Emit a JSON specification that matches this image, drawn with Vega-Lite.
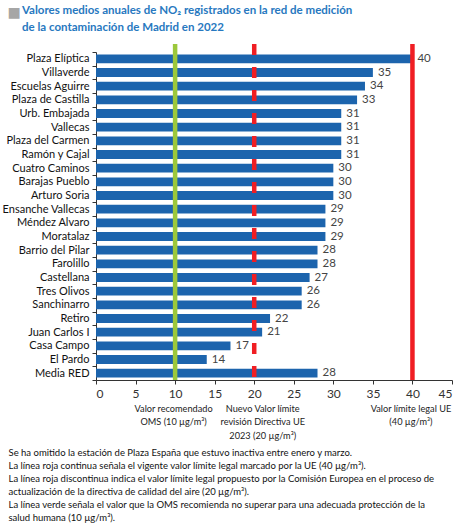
{
  "$schema": "https://vega.github.io/schema/vega-lite/v6.json",
  "autosize": {"type": "none"},
  "width": 356,
  "height": 336,
  "padding": {"left": 96, "top": 44, "right": 22, "bottom": 144},
  "background": "white",
  "config": {
    "font": "Lato",
    "view": {"stroke": null}
  },
  "title": {
    "text": ["Valores medios anuales de NO₂ registrados en la red de medición", "de la contaminación de Madrid en 2022"],
    "anchor": "start",
    "frame": "group",
    "dx": -74,
    "dy": 37,
    "font": "Lato",
    "fontSize": 11.5,
    "fontWeight": "bold",
    "color": "#2778C0",
    "lineHeight": 16.5,
    "offset": 9
  },
  "datasets": {
    "stations": [
      {"station": "Plaza Elíptica", "value": 40},
      {"station": "Villaverde", "value": 35},
      {"station": "Escuelas Aguirre", "value": 34},
      {"station": "Plaza de Castilla", "value": 33},
      {"station": "Urb. Embajada", "value": 31},
      {"station": "Vallecas", "value": 31},
      {"station": "Plaza del Carmen", "value": 31},
      {"station": "Ramón y Cajal", "value": 31},
      {"station": "Cuatro Caminos", "value": 30},
      {"station": "Barajas Pueblo", "value": 30},
      {"station": "Arturo Soria", "value": 30},
      {"station": "Ensanche Vallecas", "value": 29},
      {"station": "Méndez Alvaro", "value": 29},
      {"station": "Moratalaz", "value": 29},
      {"station": "Barrio del Pilar", "value": 28},
      {"station": "Farolillo", "value": 28},
      {"station": "Castellana", "value": 27},
      {"station": "Tres Olivos", "value": 26},
      {"station": "Sanchinarro", "value": 26},
      {"station": "Retiro", "value": 22},
      {"station": "Juan Carlos I", "value": 21},
      {"station": "Casa Campo", "value": 17},
      {"station": "El Pardo", "value": 14},
      {"station": "Media RED", "value": 28}
    ],
    "limits": [
      {"limit": 10, "color": "#9CC83B", "style": "solid"},
      {"limit": 20, "color": "#F01E23", "style": "dashed"},
      {"limit": 40, "color": "#F01E23", "style": "solid"}
    ]
  },
  "layer": [
    {
      "data": {"name": "stations"},
      "mark": {"type": "bar", "color": "#1C64AD", "height": {"band": 0.65}},
      "encoding": {
        "y": {
          "field": "station",
          "type": "nominal",
          "sort": null,
          "scale": {"range": [8, 336], "paddingInner": 0, "paddingOuter": 0},
          "axis": {
            "orient": "left",
            "title": "■",
            "titleAngle": 0,
            "titleX": -89,
            "titleY": -28,
            "titleAlign": "left",
            "titleBaseline": "alphabetic",
            "titleFont": "DejaVu Sans",
            "titleFontSize": 14,
            "titleFontWeight": "normal",
            "titleColor": "#A6A6A6",
            "tickBand": "extent",
            "tickSize": 4,
            "tickColor": "#333333",
            "domainColor": "#333333",
            "labelFont": "Lato",
            "labelFontSize": 11,
            "labelColor": "#111111",
            "labelPadding": 3,
            "labelLimit": 0
          }
        },
        "x": {
          "field": "value",
          "type": "quantitative",
          "scale": {"domain": [0, 45], "nice": false},
          "axis": {
            "orient": "bottom",
            "values": [0, 5, 10, 15, 20, 25, 30, 35, 40, 45],
            "grid": false,
            "tickSize": 4,
            "tickColor": "#333333",
            "domainColor": "#333333",
            "labelFont": "Lato",
            "labelFontSize": 12,
            "labelColor": "#333333",
            "labelPadding": 4,
            "title": null
          }
        }
      }
    },
    {
      "data": {"name": "limits"},
      "mark": {"type": "rule", "strokeWidth": 4.5},
      "encoding": {
        "x": {
          "field": "limit",
          "type": "quantitative",
          "scale": {"domain": [0, 45], "nice": false},
          "axis": {
            "orient": "bottom",
            "offset": 24,
            "values": [10, 20, 40],
            "domain": false,
            "ticks": false,
            "grid": false,
            "labelPadding": 0,
            "labelBaseline": "top",
            "labelFont": "Lato",
            "labelFontSize": 9.2,
            "labelLineHeight": 13.5,
            "labelColor": "#222222",
            "labelOffset": {"condition": {"test": "datum.value == 20", "value": 8}, "value": -2},
            "labelExpr": "datum.value == 10 ? ['Valor recomendado', 'OMS (10 µg/m³)'] : datum.value == 20 ? ['Nuevo Valor límite', 'revisión Directiva UE', '2023 (20 µg/m³)'] : ['Valor límite legal UE', '(40 µg/m³)']",
            "title": ["Se ha omitido la estación de Plaza España que estuvo inactiva entre enero y marzo.", "La línea roja continua señala el vigente valor límite legal marcado por la UE (40 µg/m³).", "La línea roja discontinua indica el valor límite legal propuesto por la Comisión Europea en el proceso de", "actualización de la directiva de calidad del aire (20 µg/m³).", "La línea verde señala el valor que la OMS recomienda no superar para una adecuada protección de la", "salud humana (10 µg/m³)."],
            "titleX": -88,
            "titleY": 43,
            "titleAlign": "left",
            "titleAnchor": "start",
            "titleBaseline": "top",
            "titleFont": "Lato",
            "titleFontSize": 9.5,
            "titleFontWeight": "normal",
            "titleColor": "#111111",
            "titleLineHeight": 13
          }
        },
        "color": {"field": "color", "type": "nominal", "scale": null},
        "strokeDash": {
          "field": "style",
          "type": "nominal",
          "scale": {"domain": ["solid", "dashed"], "range": [[1, 0], [11, 12]]},
          "legend": null
        }
      }
    },
    {
      "data": {"name": "stations"},
      "mark": {"type": "text", "align": "left", "baseline": "middle", "dx": 5, "font": "Lato", "fontSize": 11.5, "color": "#444444"},
      "encoding": {
        "y": {"field": "station", "type": "nominal", "sort": null},
        "x": {"field": "value", "type": "quantitative", "axis": null},
        "text": {"field": "value", "type": "quantitative"}
      }
    }
  ],
  "resolve": {"axis": {"x": "independent"}}
}
